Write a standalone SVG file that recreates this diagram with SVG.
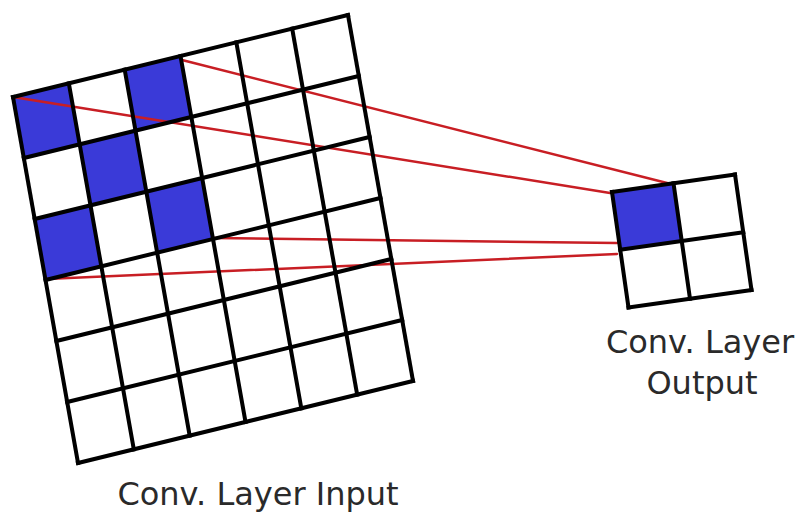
<svg xmlns="http://www.w3.org/2000/svg" width="801" height="514" viewBox="0 0 801 514">
  <style>
    .cell { fill: #3a3ad8; stroke: none; }
    .grid { stroke: #000; stroke-width: 4; stroke-linecap: square; fill: none; }
    .conn { stroke: #c81e24; stroke-width: 2.5; fill: none; stroke-linecap: round; }
    .label { font-family: "DejaVu Sans", sans-serif; font-size: 32px; fill: #2a2a2a; text-anchor: middle; }
  </style>
  <rect width="801" height="514" fill="#fff"/>

  <g id="input-layer">
    <g id="input-blue">
      <polygon class="cell" points="13,97 68.83,83.33 79.67,144.33 23.83,158"/>
      <polygon class="cell" points="124.67,69.67 180.5,56 191.33,117 135.5,130.67"/>
      <polygon class="cell" points="79.67,144.33 135.5,130.67 146.33,191.67 90.5,205.33"/>
      <polygon class="cell" points="34.67,219 90.5,205.33 101.33,266.33 45.5,280"/>
      <polygon class="cell" points="146.33,191.67 202.17,178 213,239 157.17,252.67"/>
    </g>
  </g>

  <g id="output-layer">
    <polygon class="cell" points="612,192 673.5,183.25 681.75,241 620.25,249.75"/>
  </g>

  <g id="connectors">
    <line class="conn" x1="13" y1="97" x2="610" y2="193"/>
    <line class="conn" x1="182" y1="60" x2="671" y2="184"/>
    <line class="conn" x1="213" y1="238" x2="617" y2="243"/>
    <line class="conn" x1="46" y1="279" x2="617" y2="254"/>
  </g>

  <g id="input-grid" class="grid">
    <line x1="13" y1="97" x2="348" y2="15"/>
    <line x1="23.83" y1="158" x2="358.83" y2="76"/>
    <line x1="34.67" y1="219" x2="369.67" y2="137"/>
    <line x1="45.5" y1="280" x2="380.5" y2="198"/>
    <line x1="56.33" y1="341" x2="391.33" y2="259"/>
    <line x1="67.17" y1="402" x2="402.17" y2="320"/>
    <line x1="78" y1="463" x2="413" y2="381"/>
    <line x1="13" y1="97" x2="78" y2="463"/>
    <line x1="68.83" y1="83.33" x2="133.83" y2="449.33"/>
    <line x1="124.67" y1="69.67" x2="189.67" y2="435.67"/>
    <line x1="180.5" y1="56" x2="245.5" y2="422"/>
    <line x1="236.33" y1="42.33" x2="301.33" y2="408.33"/>
    <line x1="292.17" y1="28.67" x2="357.17" y2="394.67"/>
    <line x1="348" y1="15" x2="413" y2="381"/>
  </g>

  <g id="output-grid" class="grid">
    <line x1="612" y1="192" x2="735" y2="174.5"/>
    <line x1="620.25" y1="249.75" x2="743.25" y2="232.25"/>
    <line x1="628.5" y1="307.5" x2="751.5" y2="290"/>
    <line x1="612" y1="192" x2="628.5" y2="307.5"/>
    <line x1="673.5" y1="183.25" x2="690" y2="298.75"/>
    <line x1="735" y1="174.5" x2="751.5" y2="290"/>
  </g>

  <g id="labels">
    <text class="label" x="258" y="505">Conv. Layer Input</text>
    <text class="label" x="700" y="353">Conv. Layer</text>
    <text class="label" x="702" y="394">Output</text>
  </g>
</svg>
